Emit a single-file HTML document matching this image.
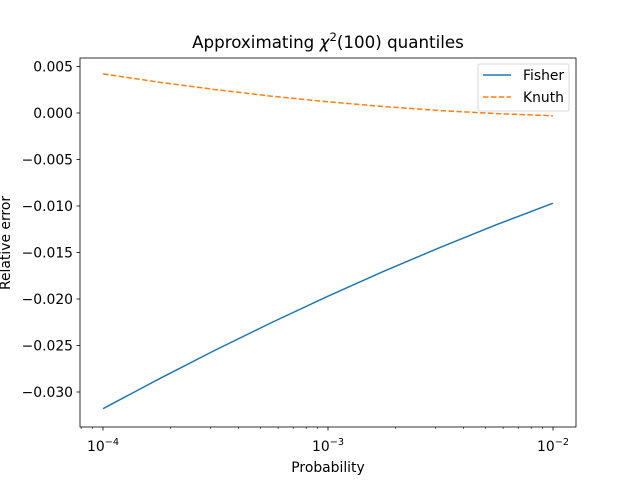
<!DOCTYPE html><html><head><style>body{margin:0;background:#fff}</style></head><body>
<svg width="640" height="480" xmlns="http://www.w3.org/2000/svg" font-family="DejaVu Sans, Liberation Sans, sans-serif">
<rect x="80" y="58" width="496" height="369" fill="none" stroke="#000" stroke-width="0.8"/>
<g stroke="#000" stroke-width="0.8">
<line x1="103" y1="427" x2="103" y2="430.5"/><line x1="328" y1="427" x2="328" y2="430.5"/><line x1="553" y1="427" x2="553" y2="430.5"/>
</g>
<g stroke="#000" stroke-width="0.6">
<line x1="81.2" y1="427" x2="81.2" y2="429"/><line x1="92.7" y1="427" x2="92.7" y2="429"/>
<line x1="170.7" y1="427" x2="170.7" y2="429"/><line x1="210.4" y1="427" x2="210.4" y2="429"/><line x1="238.5" y1="427" x2="238.5" y2="429"/><line x1="260.3" y1="427" x2="260.3" y2="429"/><line x1="278.1" y1="427" x2="278.1" y2="429"/><line x1="293.2" y1="427" x2="293.2" y2="429"/><line x1="306.2" y1="427" x2="306.2" y2="429"/><line x1="317.7" y1="427" x2="317.7" y2="429"/>
<line x1="395.7" y1="427" x2="395.7" y2="429"/><line x1="435.4" y1="427" x2="435.4" y2="429"/><line x1="463.5" y1="427" x2="463.5" y2="429"/><line x1="485.3" y1="427" x2="485.3" y2="429"/><line x1="503.1" y1="427" x2="503.1" y2="429"/><line x1="518.2" y1="427" x2="518.2" y2="429"/><line x1="531.2" y1="427" x2="531.2" y2="429"/><line x1="542.7" y1="427" x2="542.7" y2="429"/>
</g>
<g font-size="13.9" text-anchor="middle">
<text x="103" y="451">10<tspan dy="-6" font-size="9.7">−4</tspan></text>
<text x="328" y="451">10<tspan dy="-6" font-size="9.7">−3</tspan></text>
<text x="553" y="451">10<tspan dy="-6" font-size="9.7">−2</tspan></text>
<text x="328" y="472">Probability</text>
</g>
<g stroke="#000" stroke-width="0.8">
<line x1="76.5" x2="80" y1="66.5" y2="66.5"/><line x1="76.5" x2="80" y1="113" y2="113"/><line x1="76.5" x2="80" y1="159.5" y2="159.5"/><line x1="76.5" x2="80" y1="206" y2="206"/><line x1="76.5" x2="80" y1="252.5" y2="252.5"/><line x1="76.5" x2="80" y1="299" y2="299"/><line x1="76.5" x2="80" y1="345.5" y2="345.5"/><line x1="76.5" x2="80" y1="392" y2="392"/>
</g>
<g font-size="13.9" text-anchor="end">
<text x="73" y="71.5">0.005</text><text x="73" y="118">0.000</text><text x="73" y="164.5">−0.005</text><text x="73" y="211">−0.010</text><text x="73" y="257.5">−0.015</text><text x="73" y="304">−0.020</text><text x="73" y="350.5">−0.025</text><text x="73" y="397">−0.030</text>
</g>
<text font-size="13.9" text-anchor="middle" transform="translate(10,243) rotate(-90)">Relative error</text>
<text x="328" y="48" font-size="16.7" text-anchor="middle">Approximating <tspan font-style="italic">χ</tspan><tspan dy="-7" font-size="11.7">2</tspan><tspan dy="7">(100) quantiles</tspan></text>
<polyline points="103,408.7 159.25,378.8 215.5,350 271.75,322.5 328,296.2 384.25,271.1 440.5,247.3 496.75,224.6 553,203.2" fill="none" stroke="#1f77b4" stroke-width="1.5"/>
<polyline points="103,73.9 159.25,82.2 215.5,89.6 271.75,96.2 328,101.8 384.25,106.6 440.5,110.6 496.75,113.6 553,115.8" fill="none" stroke="#ff7f0e" stroke-width="1.5" stroke-dasharray="5.5,2.4"/>
<rect x="478" y="64" width="91" height="47" rx="2" fill="#fff" stroke="#ccc" stroke-width="0.8"/>
<line x1="483" x2="511" y1="75" y2="75" stroke="#1f77b4" stroke-width="1.5"/>
<line x1="483" x2="511" y1="97" y2="97" stroke="#ff7f0e" stroke-width="1.5" stroke-dasharray="5.5,2.4"/>
<text x="523" y="80" font-size="13.9">Fisher</text>
<text x="523" y="102" font-size="13.9">Knuth</text>
</svg></body></html>
